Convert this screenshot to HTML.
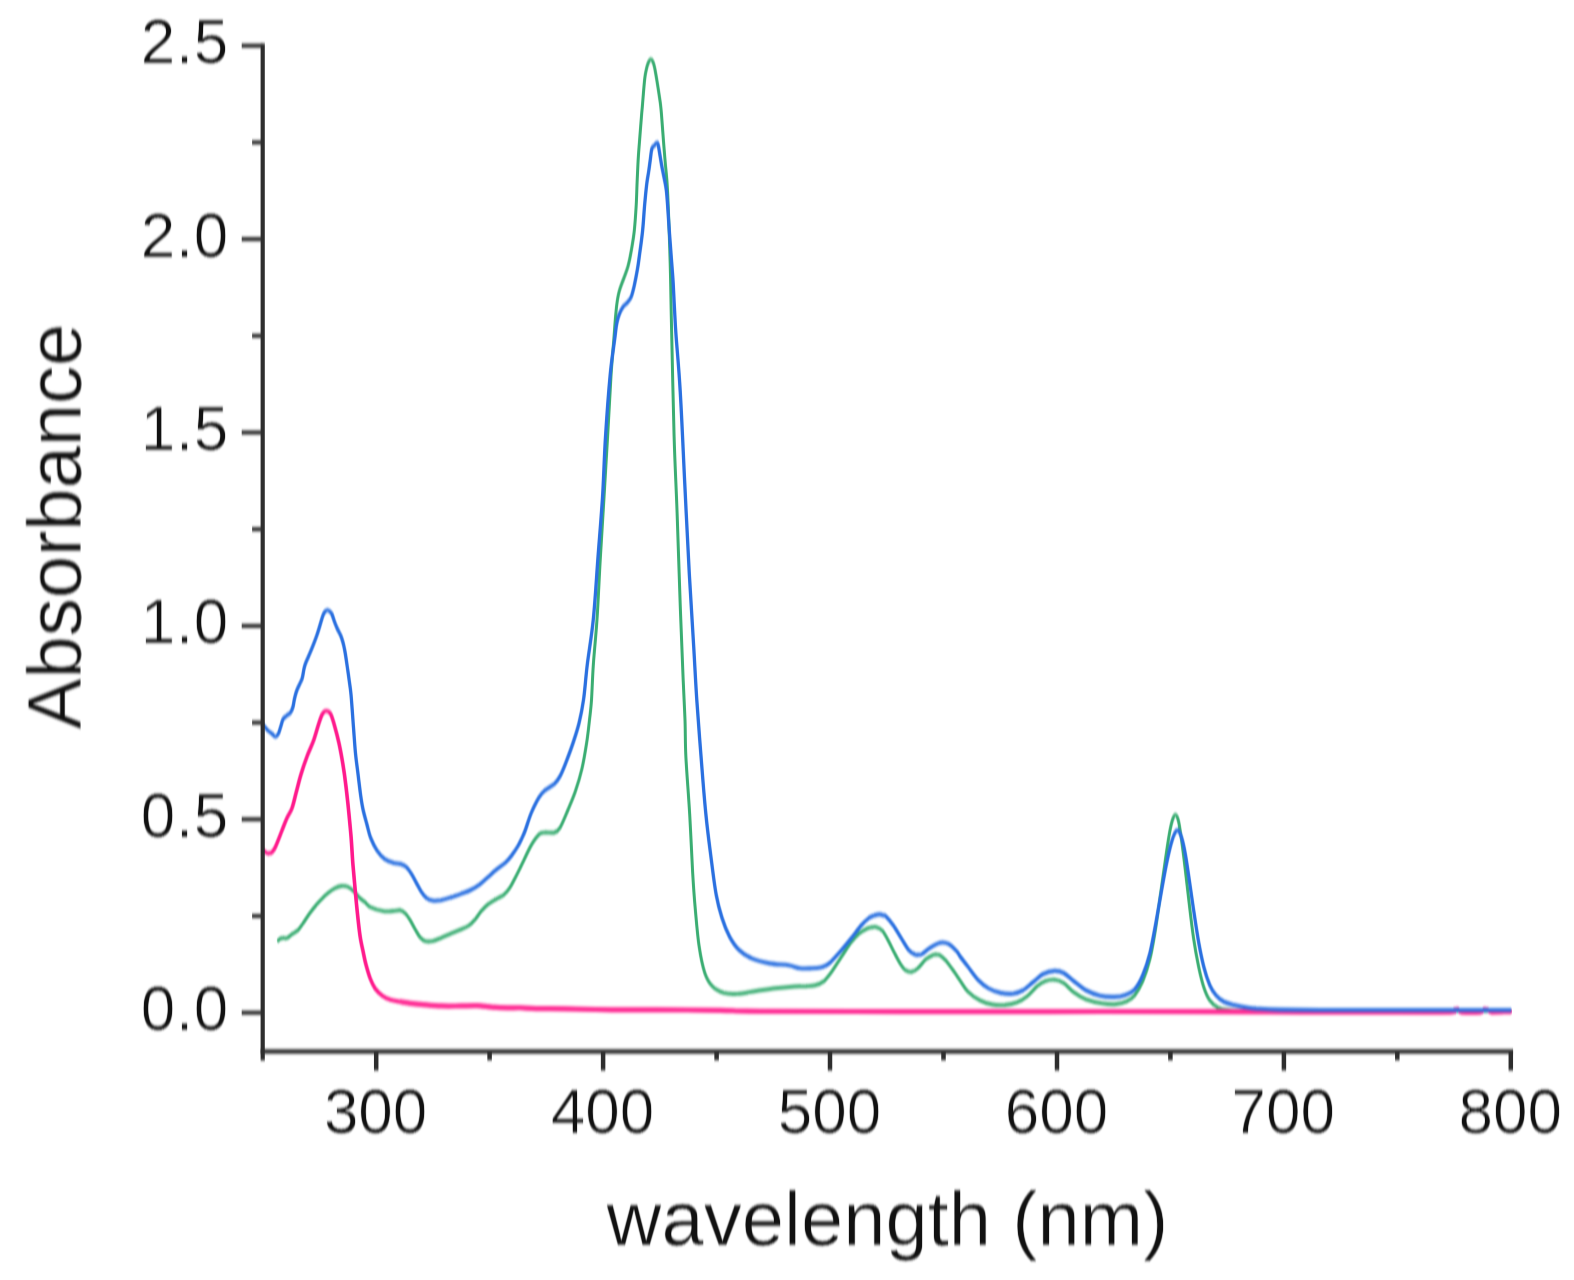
<!DOCTYPE html>
<html lang="en"><head><meta charset="utf-8"><title>Absorbance vs wavelength</title>
<style>html,body{margin:0;padding:0;background:#fff;}body{width:1574px;height:1280px;overflow:hidden;}svg{display:block;}text{font-family:"Liberation Sans",Arial,sans-serif;fill:#111;stroke:#fff;stroke-width:0.7px;}</style>
</head><body>
<svg width="1574" height="1280" viewBox="0 0 1574 1280">
<defs><filter id="soft" filterUnits="userSpaceOnUse" x="0" y="0" width="1574" height="1280" color-interpolation-filters="sRGB"><feGaussianBlur stdDeviation="0.6 1.35"/></filter></defs>
<rect width="1574" height="1280" fill="#fff"/>
<g filter="url(#soft)">
<g fill="none" stroke-linejoin="round" stroke-linecap="round">
<path transform="scale(1 1.300)" stroke="#3aad72" stroke-width="3.00" d="M278.3 723.4C278.7 723.2 279.7 722.3 280.5 722.0C281.3 721.7 281.9 721.5 283.0 721.5C284.1 721.4 285.6 722.0 287.2 721.5C288.8 721.0 290.5 719.5 292.3 718.5C294.1 717.5 296.2 716.9 298.0 715.5C299.8 714.2 301.2 712.3 303.1 710.2C305.0 708.0 307.4 705.1 309.5 702.8C311.6 700.6 313.7 698.4 315.8 696.5C317.9 694.5 320.1 692.7 322.2 691.1C324.3 689.4 326.4 688.0 328.5 686.7C330.6 685.4 332.8 684.2 334.9 683.3C337.0 682.4 339.1 681.7 341.2 681.5C343.3 681.3 345.5 681.4 347.6 682.1C349.7 682.8 351.8 684.2 353.9 685.7C356.0 687.2 358.4 689.7 360.3 691.1C362.2 692.5 363.3 692.9 365.0 694.0C366.7 695.1 367.6 696.8 370.7 697.9C373.8 699.1 379.7 700.4 383.4 700.9C387.1 701.4 390.2 700.9 393.0 700.8C395.8 700.7 398.0 699.9 400.0 700.2C402.0 700.5 403.4 701.2 405.1 702.5C406.8 703.7 408.5 705.8 410.2 707.9C411.9 710.0 413.5 712.7 415.2 714.9C416.9 717.1 418.6 719.7 420.3 721.2C422.0 722.7 423.4 723.5 425.4 723.9C427.4 724.4 429.9 724.3 432.5 723.9C435.1 723.5 437.6 722.6 440.7 721.6C443.8 720.6 447.4 719.2 450.8 718.1C454.2 717.0 457.9 716.0 461.0 714.9C464.1 713.9 466.7 713.1 469.1 711.8C471.5 710.6 473.2 709.0 475.2 707.2C477.2 705.3 479.1 702.8 481.3 700.8C483.5 698.9 485.9 696.9 488.4 695.4C490.9 693.8 493.9 692.6 496.5 691.5C499.1 690.3 501.5 689.8 503.7 688.4C505.9 687.0 508.0 685.0 509.8 682.9C511.6 680.8 513.1 678.3 514.8 675.8C516.5 673.4 518.5 670.2 519.9 668.1C521.3 665.9 521.1 666.1 523.0 663.1C524.9 660.0 528.8 653.4 531.5 649.8C534.2 646.3 536.9 643.4 539.1 641.8C541.3 640.3 542.2 640.6 544.8 640.4C547.3 640.1 551.9 641.0 554.4 640.4C556.9 639.8 557.8 639.5 560.0 636.7C562.2 633.9 565.2 628.1 567.7 623.5C570.2 618.8 572.9 614.2 575.3 608.8C577.7 603.5 580.1 597.6 582.0 591.2C583.9 584.9 585.5 577.1 586.8 570.7C588.1 564.3 588.8 558.4 589.6 553.1C590.4 547.7 590.9 545.4 591.5 538.5C592.1 531.6 592.4 522.0 593.3 511.7C594.2 501.4 595.8 490.2 597.0 476.5C598.2 462.9 599.1 445.2 600.3 429.6C601.5 414.0 602.8 398.4 604.0 382.8C605.2 367.1 606.4 351.5 607.6 335.8C608.8 320.2 610.0 301.4 611.0 289.0C612.0 276.6 613.1 268.7 613.8 261.5C614.5 254.4 614.8 250.6 615.3 246.0C615.8 241.4 616.2 237.8 616.8 234.2C617.4 230.6 618.0 227.7 619.1 224.5C620.2 221.2 622.0 217.9 623.5 214.7C625.0 211.4 626.7 208.5 628.0 204.9C629.3 201.3 630.2 197.8 631.2 193.2C632.2 188.7 633.5 183.4 634.3 177.5C635.1 171.7 635.7 164.5 636.2 158.0C636.7 151.5 636.8 144.8 637.2 138.5C637.6 132.1 637.9 125.8 638.4 120.0C638.9 114.2 639.5 109.0 640.0 103.8C640.5 98.7 641.1 93.3 641.5 89.2C641.9 85.2 642.1 84.5 642.6 79.6C643.1 74.8 644.1 64.7 644.8 60.1C645.5 55.5 646.1 54.0 646.8 51.9C647.5 49.8 648.1 48.4 648.8 47.4C649.5 46.4 650.1 45.8 650.8 45.8C651.5 45.8 652.2 46.4 652.8 47.4C653.4 48.4 654.0 49.8 654.6 51.9C655.2 54.0 655.5 55.5 656.5 60.1C657.5 64.7 659.5 74.8 660.4 79.6C661.2 84.5 661.1 84.6 661.6 89.2C662.1 93.9 662.8 101.6 663.4 107.7C664.0 113.8 664.6 119.3 665.3 125.7C666.0 132.1 666.7 133.8 667.5 146.2C668.3 158.5 669.4 182.1 670.1 200.0C670.8 217.9 670.9 231.2 671.6 253.8C672.3 276.5 673.2 312.4 674.1 335.8C675.0 359.3 676.1 373.0 677.1 394.5C678.1 415.9 679.2 443.3 680.2 464.8C681.2 486.3 682.4 508.5 683.2 523.4C684.0 538.2 684.5 544.0 685.0 553.8C685.5 563.7 685.1 570.4 685.9 582.5C686.7 594.6 688.6 611.8 689.7 626.5C690.8 641.1 691.7 658.4 692.6 670.4C693.5 682.4 694.1 689.0 695.2 698.5C696.3 708.1 697.5 719.5 699.1 727.8C700.7 736.2 702.6 743.2 704.8 748.4C707.0 753.5 709.2 756.1 712.4 758.7C715.6 761.3 719.7 762.8 723.8 763.8C727.9 764.7 731.8 764.8 737.2 764.5C742.6 764.3 749.9 763.0 756.2 762.3C762.6 761.6 768.9 760.7 775.3 760.2C781.7 759.6 789.3 759.1 794.4 758.8C799.5 758.6 802.5 758.8 806.0 758.7C809.5 758.5 812.3 758.5 815.2 757.9C818.1 757.3 820.9 756.5 823.4 755.0C825.9 753.5 828.3 750.9 830.5 748.7C832.7 746.5 834.6 744.0 836.6 741.7C838.6 739.3 840.3 737.4 842.7 734.6C845.1 731.9 848.1 728.0 850.8 725.2C853.5 722.5 856.3 720.1 859.0 718.2C861.7 716.4 864.8 715.1 867.0 714.3C869.2 713.5 870.5 713.5 872.0 713.3C873.5 713.1 874.5 712.7 876.2 713.2C877.9 713.6 880.3 714.2 882.3 715.9C884.3 717.7 886.4 720.8 888.4 723.7C890.4 726.6 892.5 730.1 894.5 733.1C896.5 736.1 898.7 739.5 900.6 741.7C902.5 743.9 903.8 745.4 905.7 746.4C907.6 747.4 909.8 747.8 911.8 747.5C913.8 747.3 915.5 746.5 917.9 744.8C920.3 743.2 923.5 739.5 926.0 737.8C928.5 736.1 931.3 735.2 933.1 734.6C934.9 734.0 935.6 734.2 936.8 734.3C938.0 734.4 938.6 734.2 940.2 735.0C941.8 735.8 943.9 737.2 946.3 739.3C948.7 741.5 952.2 745.4 954.5 747.9C956.8 750.4 957.8 751.7 960.0 754.2C962.2 756.6 964.5 760.1 967.8 762.7C971.1 765.3 975.9 767.9 980.0 769.5C984.1 771.2 988.4 772.1 992.5 772.7C996.6 773.3 1000.6 773.3 1004.7 773.1C1008.8 772.8 1013.2 772.2 1016.9 771.1C1020.6 770.0 1023.6 768.5 1027.0 766.4C1030.4 764.3 1034.2 760.6 1037.2 758.6C1040.2 756.7 1042.4 755.5 1045.3 754.7C1048.2 753.9 1051.5 753.4 1054.5 753.6C1057.5 753.9 1060.4 754.6 1063.6 756.2C1066.8 757.8 1070.1 761.2 1073.8 763.3C1077.5 765.4 1081.3 767.3 1086.0 768.8C1090.7 770.2 1097.1 771.3 1102.2 771.8C1107.3 772.4 1112.3 772.6 1116.4 772.3C1120.5 772.1 1123.5 771.4 1126.6 770.3C1129.6 769.2 1132.0 768.2 1134.7 765.6C1137.4 763.0 1140.2 759.4 1142.8 754.7C1145.3 750.0 1148.0 743.8 1150.0 737.5C1152.0 731.3 1153.3 725.0 1155.0 717.2C1156.7 709.3 1158.3 699.7 1160.0 690.6C1161.7 681.5 1163.7 670.6 1165.2 662.5C1166.7 654.5 1168.0 647.4 1169.2 642.2C1170.4 636.9 1171.3 633.8 1172.3 631.2C1173.3 628.7 1174.3 626.9 1175.3 626.9C1176.3 626.9 1177.4 628.2 1178.4 631.2C1179.4 634.3 1180.2 638.8 1181.4 645.3C1182.6 651.8 1184.2 661.7 1185.5 670.3C1186.8 678.9 1188.2 688.3 1189.5 696.9C1190.8 705.5 1192.1 714.0 1193.6 721.8C1195.1 729.7 1197.0 737.5 1198.7 743.8C1200.4 750.0 1202.0 755.1 1203.8 759.4C1205.6 763.7 1207.4 766.9 1209.8 769.5C1212.2 772.1 1215.0 773.8 1218.0 775.0C1221.0 776.2 1222.7 776.5 1228.0 776.9C1233.3 777.4 1238.0 777.6 1250.0 777.7C1262.0 777.8 1275.0 777.7 1300.0 777.7C1325.0 777.7 1365.0 777.7 1400.0 777.7C1435.0 777.7 1491.7 777.7 1510.0 777.7"/>
<path transform="scale(1 1.150)" stroke="#ff1a8c" stroke-width="3.60" d="M263.0 739.1C263.5 739.5 265.0 740.8 266.0 741.3C267.0 741.8 268.0 742.1 269.0 742.0C270.0 741.9 270.9 741.8 272.0 740.9C273.1 740.0 273.8 739.6 275.4 736.5C277.0 733.5 279.9 726.8 281.8 722.6C283.7 718.4 285.1 714.9 286.8 711.6C288.5 708.3 290.4 706.6 292.0 702.8C293.6 698.9 294.9 693.2 296.4 688.4C297.9 683.6 299.0 679.1 300.8 673.9C302.6 668.7 305.1 662.3 307.2 657.4C309.3 652.4 311.6 648.8 313.5 644.2C315.4 639.6 317.1 633.7 318.6 629.8C320.1 625.9 321.1 622.8 322.4 620.9C323.7 618.9 324.8 618.3 326.2 618.3C327.6 618.3 329.3 618.8 330.7 620.9C332.1 623.0 333.1 626.7 334.5 631.0C335.9 635.2 337.6 640.9 339.0 646.4C340.4 652.0 341.6 657.8 342.8 664.1C344.0 670.3 345.1 677.4 346.0 684.0C346.9 690.6 347.7 696.7 348.5 703.8C349.3 711.0 350.2 718.8 351.0 727.0C351.8 735.1 352.2 744.2 353.0 752.5C353.8 760.8 354.7 769.1 355.5 776.9C356.3 784.6 357.2 792.3 358.0 799.0C358.8 805.6 359.6 811.7 360.5 816.5C361.4 821.3 362.3 824.0 363.2 827.8C364.1 831.6 364.9 835.5 366.1 839.3C367.3 843.1 368.7 847.5 370.2 850.9C371.7 854.3 373.2 857.2 375.2 859.7C377.2 862.1 379.8 864.2 382.4 865.8C384.9 867.4 387.4 868.5 390.5 869.4C393.6 870.3 397.3 870.6 400.7 871.1C404.1 871.7 407.4 872.1 410.8 872.5C414.2 872.9 415.9 873.0 421.0 873.4C426.1 873.8 434.5 874.5 441.3 874.7C448.1 874.9 455.7 874.7 461.6 874.7C467.5 874.7 471.8 874.3 476.9 874.5C482.0 874.7 487.0 875.4 492.1 875.7C497.2 876.1 502.8 876.3 507.4 876.4C512.0 876.5 515.2 876.2 520.0 876.3C524.8 876.4 528.5 876.9 536.1 877.0C543.8 877.2 553.3 877.0 565.9 877.2C578.5 877.4 596.4 877.9 611.6 878.1C626.8 878.2 639.2 878.0 657.3 878.1C675.4 878.2 702.9 878.4 720.0 878.6C737.1 878.8 730.0 879.2 760.0 879.4C790.0 879.6 851.7 879.5 900.0 879.6C948.3 879.6 1000.0 879.6 1050.0 879.6C1100.0 879.6 1158.3 879.5 1200.0 879.6C1241.7 879.6 1266.7 879.9 1300.0 880.0C1333.3 880.1 1375.0 880.0 1400.0 880.0C1425.0 880.0 1441.0 880.3 1450.0 880.0C1459.0 879.7 1452.7 878.6 1454.0 878.3C1455.3 877.9 1456.7 877.5 1458.0 877.8C1459.3 878.1 1458.3 879.6 1462.0 880.0C1465.7 880.4 1476.3 880.4 1480.0 880.0C1483.7 879.6 1482.7 878.1 1484.0 877.8C1485.3 877.5 1486.7 877.9 1488.0 878.3C1489.3 878.6 1488.3 879.8 1492.0 880.0C1495.7 880.2 1507.0 879.6 1510.0 879.6"/>
<path transform="scale(1 1.300)" stroke="#ff2a93" stroke-width="4.00" d="M400.7 770.6C402.4 770.8 407.4 771.5 410.8 771.8C414.2 772.2 415.9 772.3 421.0 772.6C426.1 772.9 434.5 773.6 441.3 773.8C448.1 774.0 455.7 773.8 461.6 773.8C467.5 773.7 471.8 773.5 476.9 773.6C482.0 773.8 487.0 774.4 492.1 774.7C497.2 775.0 502.8 775.2 507.4 775.3C512.0 775.4 515.2 775.1 520.0 775.2C524.8 775.2 528.5 775.7 536.1 775.8C543.8 776.0 553.3 775.8 565.9 776.0C578.5 776.2 596.4 776.6 611.6 776.8C626.8 776.9 639.2 776.7 657.3 776.8C675.4 776.8 702.9 777.0 720.0 777.2C737.1 777.4 730.0 777.8 760.0 777.9C790.0 778.1 851.7 778.1 900.0 778.1C948.3 778.1 1000.0 778.1 1050.0 778.1C1100.0 778.1 1158.3 778.0 1200.0 778.1C1241.7 778.1 1266.7 778.4 1300.0 778.5C1333.3 778.5 1375.0 778.5 1400.0 778.5C1425.0 778.5 1441.0 778.7 1450.0 778.5C1459.0 778.2 1452.7 777.2 1454.0 776.9C1455.3 776.6 1456.7 776.3 1458.0 776.5C1459.3 776.8 1458.3 778.1 1462.0 778.5C1465.7 778.8 1476.3 778.8 1480.0 778.5C1483.7 778.1 1482.7 776.8 1484.0 776.5C1485.3 776.3 1486.7 776.6 1488.0 776.9C1489.3 777.2 1488.3 778.3 1492.0 778.5C1495.7 778.7 1507.0 778.1 1510.0 778.1"/>
<path transform="scale(1 1.250)" stroke="#2a70e0" stroke-width="3.30" d="M263.0 579.6C263.8 580.4 266.2 582.9 267.7 584.2C269.2 585.4 270.7 586.2 272.0 587.0C273.3 587.9 274.2 589.2 275.3 589.2C276.4 589.2 277.6 588.2 278.5 586.8C279.4 585.4 280.2 582.4 281.0 580.6C281.8 578.7 282.0 576.9 283.0 575.5C284.0 574.2 285.5 573.4 286.8 572.5C288.1 571.5 289.6 571.1 290.6 569.9C291.7 568.7 292.5 567.0 293.1 565.2C293.7 563.4 293.8 561.5 294.4 559.3C295.0 557.1 295.8 554.5 296.9 552.2C297.9 549.9 299.8 547.3 300.7 545.5C301.6 543.8 301.9 543.9 302.5 541.8C303.1 539.7 303.6 535.7 304.6 533.0C305.6 530.2 307.0 528.1 308.4 525.4C309.8 522.7 311.5 519.5 312.9 516.7C314.3 513.9 315.5 511.3 316.7 508.6C317.9 505.9 318.8 503.2 319.9 500.5C320.9 497.8 322.1 494.2 323.0 492.3C323.9 490.4 324.6 489.8 325.3 489.1C326.1 488.4 326.8 488.2 327.5 488.2C328.2 488.2 329.0 488.6 329.7 489.1C330.4 489.6 331.1 489.9 331.9 491.3C332.7 492.7 333.6 495.4 334.5 497.4C335.4 499.5 336.6 501.7 337.6 503.5C338.7 505.4 339.8 506.6 340.8 508.6C341.8 510.5 342.6 512.8 343.4 515.2C344.1 517.6 344.7 519.8 345.3 522.8C345.9 525.8 346.6 529.6 347.2 533.0C347.8 536.4 348.4 539.4 349.0 543.2C349.6 547.0 350.3 549.4 351.0 555.5C351.7 561.7 352.6 572.1 353.3 580.0C354.1 587.9 354.7 596.3 355.5 602.8C356.3 609.3 357.2 613.7 358.0 619.1C358.8 624.5 359.7 630.6 360.5 635.4C361.3 640.1 361.9 643.5 363.0 647.5C364.1 651.6 365.7 655.9 367.0 659.8C368.3 663.6 369.0 667.0 370.7 670.4C372.4 673.8 374.7 677.6 377.0 680.4C379.3 683.2 381.9 685.5 384.7 687.2C387.5 688.9 391.1 689.7 393.6 690.3C396.2 691.0 397.9 690.6 400.0 691.1C402.1 691.7 404.2 692.2 406.1 693.5C408.0 694.8 409.5 696.7 411.2 698.8C412.9 700.9 414.6 703.7 416.3 706.2C418.0 708.6 419.6 711.4 421.3 713.4C423.0 715.5 424.5 717.2 426.4 718.3C428.3 719.5 430.1 720.1 432.5 720.4C434.9 720.7 437.6 720.6 440.7 720.2C443.8 719.7 447.4 718.8 450.8 717.9C454.2 717.1 457.6 716.1 461.0 715.1C464.4 714.1 468.1 713.1 471.1 711.8C474.2 710.6 476.6 709.4 479.3 707.8C482.0 706.1 484.5 704.1 487.4 702.1C490.3 700.1 493.4 697.6 496.5 695.6C499.6 693.6 503.1 691.8 505.7 689.9C508.2 688.0 509.8 686.3 511.8 684.2C513.8 682.0 516.2 679.2 517.9 676.9C519.6 674.6 520.8 672.4 522.0 670.4C523.2 668.4 523.4 668.2 525.0 664.8C526.6 661.4 529.1 654.4 531.5 649.9C533.9 645.4 536.9 640.7 539.1 637.8C541.3 634.8 542.2 634.2 544.8 632.4C547.3 630.6 551.9 629.0 554.4 627.1C556.9 625.2 558.1 623.8 560.0 621.0C561.9 618.2 563.6 614.9 565.8 610.3C568.0 605.7 571.2 598.9 573.4 593.5C575.6 588.2 577.4 583.9 579.1 578.3C580.8 572.7 582.1 567.7 583.5 560.0C584.9 552.3 585.6 542.9 587.2 532.2C588.8 521.4 591.5 509.8 593.3 495.6C595.1 481.4 596.4 463.1 597.9 446.8C599.4 430.5 601.2 414.3 602.5 398.1C603.8 381.8 604.2 365.5 605.5 349.3C606.8 333.0 608.6 313.4 610.1 300.6C611.6 287.7 613.5 278.8 614.6 272.0C615.7 265.2 615.8 263.3 616.5 259.9C617.2 256.5 618.0 254.1 619.1 251.8C620.2 249.4 621.5 247.3 622.9 245.7C624.3 244.1 625.9 243.4 627.3 242.1C628.7 240.7 630.0 239.8 631.2 237.5C632.4 235.2 633.2 232.1 634.3 228.4C635.3 224.7 636.5 219.7 637.5 215.1C638.5 210.5 639.1 206.0 640.0 201.0C640.9 195.9 641.8 190.7 642.6 184.6C643.4 178.5 643.9 170.6 644.6 164.3C645.3 158.0 646.1 151.4 646.8 146.8C647.5 142.2 648.2 140.0 648.8 136.6C649.4 133.3 650.0 129.4 650.5 126.5C651.0 123.5 651.2 120.6 651.9 118.9C652.6 117.2 653.5 117.0 654.5 116.3C655.5 115.6 656.8 113.5 657.6 114.6C658.5 115.6 659.0 119.6 659.6 122.4C660.2 125.2 660.8 128.4 661.5 131.6C662.2 134.8 663.2 138.4 664.0 141.8C664.8 145.1 665.7 148.2 666.3 151.9C666.9 155.7 667.1 158.9 667.6 164.3C668.1 169.8 668.7 177.9 669.3 184.6C669.9 191.4 670.6 198.2 671.2 205.0C671.8 211.7 672.6 218.6 673.1 225.4C673.6 232.1 673.9 238.6 674.4 245.7C674.9 252.8 675.0 256.8 676.0 268.0C677.0 279.2 678.8 293.2 680.2 312.8C681.7 332.4 683.2 361.5 684.7 385.8C686.2 410.2 687.8 436.7 689.3 459.0C690.8 481.4 692.6 503.1 693.9 519.9C695.1 536.7 695.6 545.7 696.8 560.0C698.0 574.3 699.6 590.5 701.1 605.8C702.6 621.0 704.1 637.5 705.9 651.5C707.6 665.5 709.9 678.9 711.6 689.6C713.3 700.3 714.5 708.4 716.2 715.8C717.9 723.3 719.7 728.5 721.9 734.1C724.1 739.7 726.7 745.0 729.6 749.4C732.5 753.7 735.3 757.1 739.1 760.0C742.9 762.9 747.3 765.1 752.4 766.9C757.5 768.7 763.6 769.8 769.6 770.7C775.6 771.6 783.5 771.6 788.6 772.2C793.7 772.9 796.1 774.2 800.0 774.6C803.9 775.0 808.6 774.7 812.0 774.6C815.4 774.5 818.0 774.4 820.3 774.0C822.5 773.6 823.8 773.2 825.5 772.5C827.2 771.8 828.0 771.7 830.5 769.8C833.0 767.8 837.3 763.9 840.7 760.8C844.1 757.7 847.4 754.4 850.8 751.0C854.2 747.7 858.0 743.3 861.0 740.5C864.0 737.7 866.9 735.7 869.1 734.3C871.4 733.0 872.8 732.8 874.5 732.3C876.2 731.9 877.9 731.5 879.3 731.5C880.7 731.5 881.8 731.8 883.0 732.2C884.2 732.5 884.6 732.1 886.4 733.5C888.1 734.9 891.0 737.6 893.5 740.5C896.0 743.4 899.1 747.8 901.6 751.0C904.1 754.3 906.5 757.9 908.7 760.0C910.9 762.1 913.2 762.9 914.8 763.5C916.4 764.2 917.3 763.9 918.5 763.8C919.7 763.8 920.1 764.1 922.0 763.2C923.9 762.3 927.0 759.8 930.0 758.3C933.0 756.8 937.1 754.8 940.2 754.2C943.3 753.7 945.7 754.0 948.4 755.1C951.1 756.2 954.5 759.1 956.5 760.8C958.5 762.5 958.3 763.1 960.2 765.2C962.1 767.3 965.1 770.4 968.1 773.5C971.1 776.7 974.9 781.2 978.3 784.1C981.7 786.9 984.7 788.9 988.4 790.6C992.1 792.3 996.5 793.6 1000.6 794.3C1004.7 795.1 1009.1 795.3 1012.8 795.0C1016.5 794.6 1019.6 793.7 1023.0 792.2C1026.4 790.6 1029.7 787.8 1033.1 785.7C1036.5 783.5 1039.7 780.7 1043.3 779.2C1046.9 777.7 1051.1 776.9 1054.5 776.7C1057.9 776.6 1060.4 777.0 1063.6 778.4C1066.8 779.8 1070.1 782.6 1073.8 784.9C1077.5 787.2 1081.6 790.2 1086.0 792.2C1090.4 794.1 1095.5 795.7 1100.2 796.6C1104.9 797.5 1110.4 797.6 1114.4 797.5C1118.5 797.5 1121.1 797.3 1124.5 796.2C1127.9 795.2 1131.7 794.1 1134.7 791.4C1137.8 788.7 1140.2 784.9 1142.8 780.0C1145.3 775.1 1147.8 769.2 1150.0 762.2C1152.2 755.1 1154.2 745.6 1156.0 737.8C1157.8 729.9 1159.3 722.6 1161.0 715.0C1162.7 707.5 1164.5 699.0 1166.2 692.2C1167.9 685.5 1169.8 678.7 1171.3 674.4C1172.8 670.1 1173.9 667.9 1175.0 666.2C1176.1 664.6 1176.7 663.8 1177.8 664.3C1178.9 664.9 1180.1 666.2 1181.4 669.5C1182.7 672.8 1184.2 678.2 1185.5 684.2C1186.8 690.1 1188.2 698.0 1189.5 705.3C1190.8 712.6 1192.1 719.9 1193.6 728.0C1195.1 736.1 1197.0 746.4 1198.7 754.0C1200.4 761.6 1202.0 767.8 1203.8 773.5C1205.6 779.2 1207.8 784.4 1209.8 788.2C1211.8 791.9 1213.6 794.0 1216.0 796.2C1218.4 798.5 1221.0 800.1 1224.0 801.4C1227.0 802.7 1230.1 803.2 1234.2 804.0C1238.3 804.8 1244.1 805.7 1248.4 806.2C1252.7 806.7 1254.7 806.8 1260.0 807.0C1265.3 807.3 1270.0 807.5 1280.0 807.7C1290.0 807.8 1300.0 807.9 1320.0 808.0C1340.0 808.1 1376.7 808.0 1400.0 808.0C1423.3 808.0 1441.7 808.0 1460.0 808.0C1478.3 808.0 1501.7 808.0 1510.0 808.0"/>
</g>
<g stroke="#2e2e2e" fill="none">
<path stroke-width="4.2" d="M262.7 43.6 V1060.5"/>
<path stroke-width="4.5" d="M260.6 1051.5 H1513.1"/>
<path stroke-width="4.2" d="M262.7 1012.7 H241.7"/>
<path stroke-width="4.2" d="M262.7 916.0 H252.1"/>
<path stroke-width="4.2" d="M262.7 819.3 H241.7"/>
<path stroke-width="4.2" d="M262.7 722.6 H252.1"/>
<path stroke-width="4.2" d="M262.7 625.9 H241.7"/>
<path stroke-width="4.2" d="M262.7 529.2 H252.1"/>
<path stroke-width="4.2" d="M262.7 432.5 H241.7"/>
<path stroke-width="4.2" d="M262.7 335.8 H252.1"/>
<path stroke-width="4.2" d="M262.7 239.1 H241.7"/>
<path stroke-width="4.2" d="M262.7 142.4 H252.1"/>
<path stroke-width="4.2" d="M262.7 45.7 H241.7"/>
<path stroke-width="4.5" d="M376.2 1051.5 V1070.5"/>
<path stroke-width="4.5" d="M489.6 1051.5 V1060.3"/>
<path stroke-width="4.5" d="M603.1 1051.5 V1070.5"/>
<path stroke-width="4.5" d="M716.6 1051.5 V1060.3"/>
<path stroke-width="4.5" d="M830.0 1051.5 V1070.5"/>
<path stroke-width="4.5" d="M943.5 1051.5 V1060.3"/>
<path stroke-width="4.5" d="M1057.0 1051.5 V1070.5"/>
<path stroke-width="4.5" d="M1170.4 1051.5 V1060.3"/>
<path stroke-width="4.5" d="M1283.9 1051.5 V1070.5"/>
<path stroke-width="4.5" d="M1397.3 1051.5 V1060.3"/>
<path stroke-width="4.5" d="M1510.8 1051.5 V1070.5"/>
</g>
<g font-size="62" text-anchor="end" letter-spacing="0.6">
<text transform="translate(228.8 1030.3) scale(1 1.030)">0.0</text>
<text transform="translate(228.8 836.9) scale(1 1.030)">0.5</text>
<text transform="translate(228.8 643.5) scale(1 1.030)">1.0</text>
<text transform="translate(228.8 450.1) scale(1 1.030)">1.5</text>
<text transform="translate(228.8 256.7) scale(1 1.030)">2.0</text>
<text transform="translate(228.8 63.3) scale(1 1.030)">2.5</text>
</g>
<g font-size="62" text-anchor="middle">
<text transform="translate(375.6 1133.0) scale(1 1.030)">300</text>
<text transform="translate(602.5 1133.0) scale(1 1.030)">400</text>
<text transform="translate(829.4 1133.0) scale(1 1.030)">500</text>
<text transform="translate(1056.4 1133.0) scale(1 1.030)">600</text>
<text transform="translate(1283.3 1133.0) scale(1 1.030)">700</text>
<text transform="translate(1510.2 1133.0) scale(1 1.030)">800</text>
</g>
<text font-size="76" text-anchor="middle" x="887.5" y="1245">wavelength (nm)</text>
<text font-size="76" text-anchor="middle" transform="translate(80.7 526.5) rotate(-90)">Absorbance</text>
</g>
</svg></body></html>
